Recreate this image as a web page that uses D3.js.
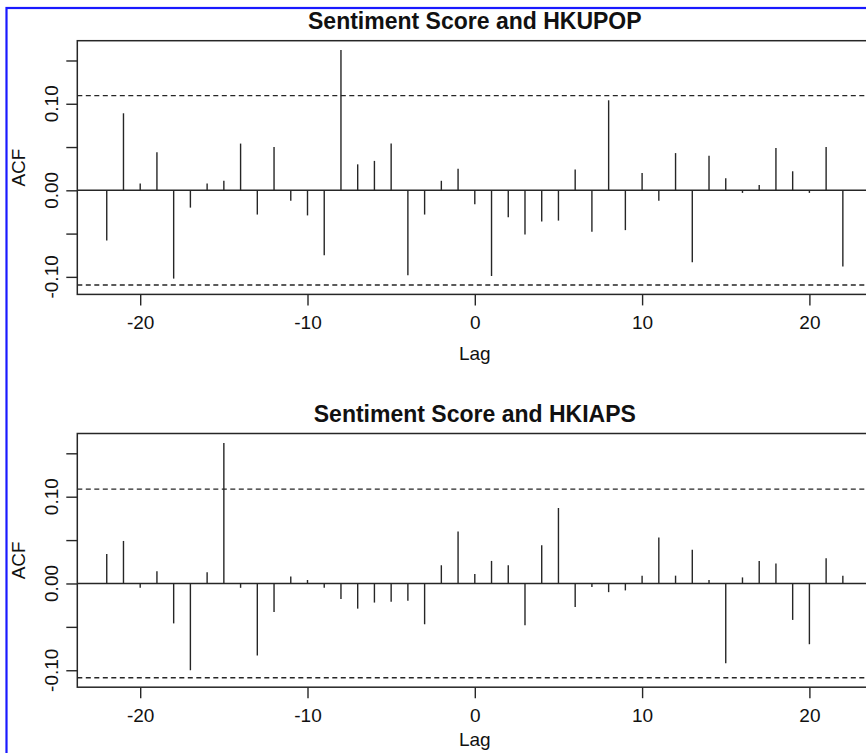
<!DOCTYPE html>
<html>
<head>
<meta charset="utf-8">
<script src="https://cdn.jsdelivr.net/npm/d3@7"></script>
<style>
  html, body { margin: 0; padding: 0; background: #fff; }
  svg { display: block; }
</style>
</head>
<body>
<div id="chart"></div>
<script>
// Cross-correlation lags shown in both panels
const lags = [-22, -21, -20, -19, -18, -17, -16, -15, -14, -13, -12, -11, -10, -9, -8, -7, -6, -5, -4, -3, -2, -1,
              0, 1, 2, 3, 4, 5, 6, 7, 8, 9, 10, 11, 12, 13, 14, 15, 16, 17, 18, 19, 20, 21, 22];

// ACF values, one per lag
const hkupopAcf = [-0.058, 0.089, 0.008, 0.044, -0.102, -0.020, 0.008, 0.011, 0.054, -0.028, 0.050, -0.012,
                   -0.029, -0.075, 0.162, 0.030, 0.034, 0.054, -0.098, -0.028, 0.011, 0.025,
                   -0.016, -0.099, -0.031, -0.051, -0.036, -0.035, 0.024, -0.048, 0.104, -0.046, 0.020,
                   -0.012, 0.043, -0.083, 0.040, 0.014, -0.003, 0.006, 0.049, 0.022, -0.003, 0.050, -0.088];

const hkiapsAcf = [0.034, 0.049, -0.005, 0.014, -0.046, -0.100, 0.013, 0.162, -0.005, -0.083, -0.033, 0.008,
                   0.004, -0.005, -0.018, -0.029, -0.022, -0.021, -0.020, -0.047, 0.021, 0.060,
                   0.011, 0.026, 0.021, -0.048, 0.044, 0.087, -0.027, -0.004, -0.010, -0.008, 0.009,
                   0.053, 0.009, 0.039, 0.004, -0.092, 0.007, 0.026, 0.023, -0.042, -0.070, 0.029, 0.009];

// confidence bounds (dashed lines)
const hkupopClim = 0.1094;
const hkiapsClim = 0.1087;

const panelTitles = ['Sentiment Score and HKUPOP', 'Sentiment Score and HKIAPS'];

const xTicks = [-20, -10, 0, 10, 20];
const yTicks = [-0.10, -0.05, 0.00, 0.05, 0.10, 0.15];
const yTickLabels = [-0.10, 0.00, 0.10];

const FONT = "'Liberation Sans', Arial, Helvetica, sans-serif";
const INK = '#262626';

// R prints a plain hyphen, not the unicode minus d3 uses
const plainMinus = fmt => v => fmt(v).replace('\u2212', '-');

class AcfPanel {
    constructor(_config, _data) {
        this.config = {
            parent: _config.parent,
            top: _config.top,
            left: _config.left || 77.3,
            width: _config.width || 795,
            height: _config.height || 253.7,
            lagOffset: _config.lagOffset || 66,
            title: _config.title,
            clim: _config.clim
        };
        this.data = _data;
        this.initVis();
    }

    initVis() {
        let vis = this;
        const c = vis.config;

        vis.g = c.parent.append('g')
            .attr('transform', `translate(${c.left},${c.top})`);

        // R pads the data range by 4% on each side
        const xr = d3.extent(vis.data, d => d.lag);
        const xpad = (xr[1] - xr[0]) * 0.04;
        vis.x = d3.scaleLinear()
            .domain([xr[0] - xpad, xr[1] + xpad])
            .range([0, c.width]);

        const yr = [
            Math.min(-c.clim, d3.min(vis.data, d => d.acf)),
            Math.max(c.clim, d3.max(vis.data, d => d.acf))
        ];
        const ypad = (yr[1] - yr[0]) * 0.04;
        vis.y = d3.scaleLinear()
            .domain([yr[0] - ypad, yr[1] + ypad])
            .range([c.height, 0]);

        vis.renderVis();
    }

    renderVis() {
        let vis = this;
        const c = vis.config;

        // zero line
        vis.g.append('line')
            .attr('x1', 0).attr('x2', c.width)
            .attr('y1', vis.y(0)).attr('y2', vis.y(0))
            .attr('stroke', INK).attr('stroke-width', 1.4);

        // spikes
        vis.g.selectAll('.spike')
            .data(vis.data)
            .join('line')
                .attr('class', 'spike')
                .attr('x1', d => vis.x(d.lag)).attr('x2', d => vis.x(d.lag))
                .attr('y1', vis.y(0)).attr('y2', d => vis.y(d.acf))
                .attr('stroke', INK)
                .attr('stroke-width', 1.4);

        // confidence bounds
        vis.g.selectAll('.clim')
            .data([c.clim, -c.clim])
            .join('line')
                .attr('class', 'clim')
                .attr('x1', 0).attr('x2', c.width)
                .attr('y1', d => vis.y(d)).attr('y2', d => vis.y(d))
                .attr('stroke', INK)
                .attr('stroke-width', 1.4)
                .attr('stroke-dasharray', '5,3.5');

        // box
        vis.g.append('rect')
            .attr('x', 0).attr('y', 0)
            .attr('width', c.width).attr('height', c.height)
            .attr('fill', 'none')
            .attr('stroke', INK)
            .attr('stroke-width', 1.5);

        // x axis
        const xAxis = vis.g.append('g')
            .attr('transform', `translate(0,${c.height})`)
            .call(d3.axisBottom(vis.x).tickValues(xTicks).tickSize(11).tickFormat(plainMinus(d3.format('d'))));
        xAxis.select('.domain').remove();
        xAxis.selectAll('line').attr('stroke', INK).attr('stroke-width', 1.4);
        xAxis.selectAll('text')
            .attr('y', 34.5).attr('dy', 0)
            .attr('fill', '#111')
            .style('font-family', FONT)
            .style('font-size', '19px');

        // y axis (ticks every 0.05, labels only where R had room)
        const yAxis = vis.g.append('g')
            .call(d3.axisLeft(vis.y).tickValues(yTicks).tickSize(11).tickFormat(''));
        yAxis.select('.domain').remove();
        yAxis.selectAll('line').attr('stroke', INK).attr('stroke-width', 1.4);

        vis.g.selectAll('.ylab')
            .data(yTickLabels)
            .join('text')
                .attr('class', 'ylab')
                .attr('transform', d => `translate(-19,${vis.y(d)}) rotate(-90)`)
                .attr('text-anchor', 'middle')
                .attr('fill', '#111')
                .style('font-family', FONT)
                .style('font-size', '19px')
                .text(plainMinus(d3.format('.2f')));

        // axis titles
        vis.g.append('text')
            .attr('transform', `translate(-52.5,${c.height / 2}) rotate(-90)`)
            .attr('text-anchor', 'middle')
            .attr('fill', '#111')
            .style('font-family', FONT)
            .style('font-size', '19px')
            .text('ACF');

        vis.g.append('text')
            .attr('x', vis.x(0))
            .attr('y', c.height + c.lagOffset)
            .attr('text-anchor', 'middle')
            .attr('fill', '#111')
            .style('font-family', FONT)
            .style('font-size', '19px')
            .text('Lag');

        // panel title
        vis.g.append('text')
            .attr('x', vis.x(0))
            .attr('y', -12)
            .attr('text-anchor', 'middle')
            .attr('fill', '#111')
            .style('font-family', FONT)
            .style('font-size', '23px')
            .style('font-weight', '700')
            .text(c.title);
    }
}

const svg = d3.select('#chart').append('svg')
    .attr('width', 866)
    .attr('height', 753);

svg.append('rect')
    .attr('width', 866).attr('height', 753)
    .attr('fill', '#fff');

// blue frame of the original figure (right and bottom sides fall outside the crop)
svg.append('rect')
    .attr('x', 6.5).attr('y', 8)
    .attr('width', 900).attr('height', 800)
    .attr('fill', 'none')
    .attr('stroke', '#1a1aff')
    .attr('stroke-width', 2.2);

const panelData = [hkupopAcf, hkiapsAcf].map(series =>
    lags.map((lag, i) => ({ lag: lag, acf: series[i] }))
);

new AcfPanel({ parent: svg, top: 40.7, title: panelTitles[0], clim: hkupopClim, lagOffset: 66 }, panelData[0]);
// the crop ends just under the lower "Lag", so keep it a little higher to stay whole
new AcfPanel({ parent: svg, top: 433.5, title: panelTitles[1], clim: hkiapsClim, lagOffset: 59 }, panelData[1]);
</script>
</body>
</html>
